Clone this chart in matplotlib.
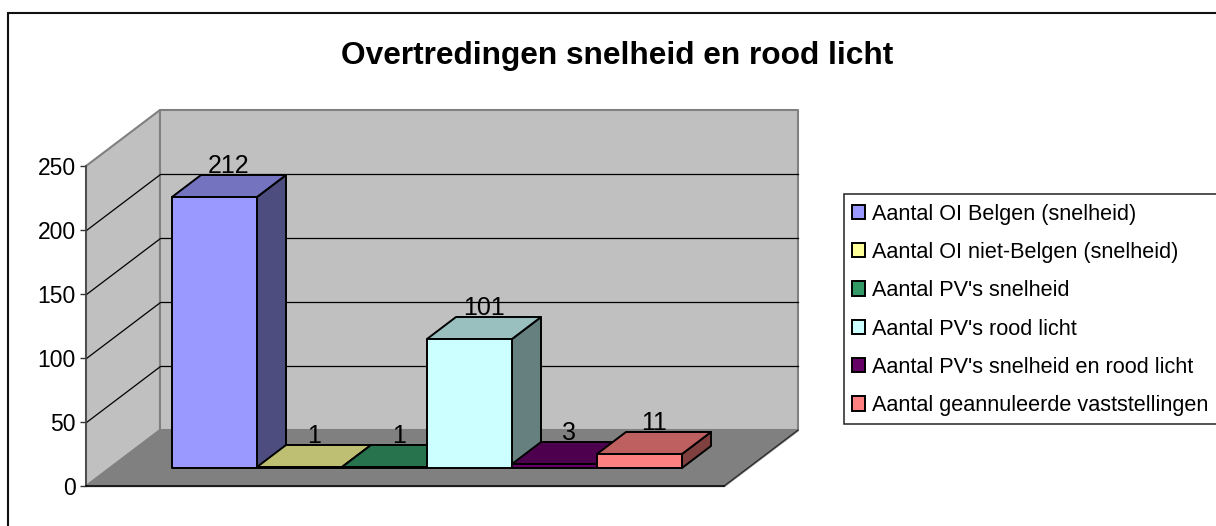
import matplotlib
matplotlib.use("Agg")
import matplotlib.pyplot as plt
from matplotlib.colors import to_rgb
from matplotlib.lines import Line2D
from matplotlib.patches import Patch, Polygon, Rectangle

plt.rcParams["font.family"] = ["Liberation Sans", "DejaVu Sans"]

# data
labels = ["Aantal OI Belgen (snelheid)", "Aantal OI niet-Belgen (snelheid)",
          "Aantal PV's snelheid", "Aantal PV's rood licht",
          "Aantal PV's snelheid en rood licht", "Aantal geannuleerde vaststellingen"]
values = [212, 1, 1, 101, 3, 11]
colors = ["#9999FF", "#FFFF99", "#339966", "#CCFFFF", "#660066", "#FF8080"]
yticks = [0, 50, 100, 150, 200, 250]

W, H = 1216, 526
fig = plt.figure(figsize=(W / 100, H / 100), dpi=100)

# front plane of the 3D box, in pixels
ax = fig.add_axes([86 / W, 1 - 486 / H, 638 / W, 320 / H])
ax.set_xlim(-0.73, 6.77)
ax.set_ylim(0, 250)
ax.patch.set_visible(False)

DX = 74 / (638 / 7.5)   # full depth in x units
DY = 56 / (320 / 250)   # full depth in value units
BAR_D0 = 18 / 56
BAR_D1 = 40 / 56


def pt(x, v, d=0.0):
    # project a point (category, value, depth 0..1) onto the front plane
    return (x + d * DX, v + d * DY)


def poly(points, face, edge, lw, z):
    ax.add_patch(Polygon(points, closed=True, facecolor=face, edgecolor=edge, snap=True,
                         linewidth=lw, zorder=z, clip_on=False, joinstyle="round"))


def shade(c, f):
    return tuple(f * k for k in to_rgb(c))


x0, x1 = ax.get_xlim()
wall = "#C0C0C0"
floor = "#808080"
poly([pt(x0, 0), pt(x0, 250), pt(x0, 250, 1), pt(x0, 0, 1)], wall, "#808080", 1.5, 1)
poly([pt(x0, 0, 1), pt(x0, 250, 1), pt(x1, 250, 1), pt(x1, 0, 1)], wall, "#808080", 1.5, 1)
poly([pt(x0, 0), pt(x1, 0), pt(x1, 0, 1), pt(x0, 0, 1)], floor, "#808080", 1.0, 1.5)

for t in yticks[1:-1]:
    ax.add_line(Line2D(*zip(pt(x0, t), pt(x0, t, 1), pt(x1, t, 1)), color="black",
                       lw=0.9, zorder=2, clip_on=False, snap=True))

ax.add_line(Line2D(*zip(pt(x1, 0), pt(x1, 0, 1)), color="#222222", lw=0.8, zorder=2, clip_on=False))

for i, (v, c) in enumerate(zip(values, colors)):
    l, r = i, i + 1
    z = 3 + i * 0.1
    # right side, top, front
    poly([pt(r, 0, BAR_D0), pt(r, 0, BAR_D1), pt(r, v, BAR_D1), pt(r, v, BAR_D0)],
         shade(c, 0.5), "black", 1.4, z)
    poly([pt(l, v, BAR_D0), pt(r, v, BAR_D0), pt(r, v, BAR_D1), pt(l, v, BAR_D1)],
         shade(c, 0.75), "black", 1.4, z)
    poly([pt(l, 0, BAR_D0), pt(r, 0, BAR_D0), pt(r, v, BAR_D0), pt(l, v, BAR_D0)],
         c, "black", 1.4, z)
    lx = pt(i + 0.5, v, (BAR_D0 + BAR_D1) / 2)[0]
    ly = pt(i + 0.5, v, BAR_D1)[1]
    ax.text(lx, ly + 1.5, str(v), ha="center", va="baseline", fontsize=18, color="black",
            zorder=5, clip_on=False)

ax.set_yticks(yticks)
ax.set_xticks([])
ax.tick_params(axis="y", length=4.3, width=1.0, color="#333333", labelsize=16.5, pad=3)
for s in ["top", "right"]:
    ax.spines[s].set_visible(False)
ax.spines["left"].set_color("#444444")
ax.spines["left"].set_linewidth(1.2)
ax.spines["bottom"].set_color("black")
ax.spines["bottom"].set_linewidth(1.1)
ax.spines["left"].set_zorder(2.5)
ax.spines["bottom"].set_zorder(2.5)

# outer frame runs off the right and bottom of the picture
fig.add_artist(Rectangle((8 / W, 1 - 600 / H), 1300 / W, 587 / H, transform=fig.transFigure,
                         facecolor="none", edgecolor="#111111", linewidth=1.5, zorder=0))

fig.text(617 / W, 1 - 56 / H, "Overtredingen snelheid en rood licht", ha="center", va="center",
         fontsize=22.8, fontweight="bold")

# legend box also runs off the right edge
fig.add_artist(Rectangle((844 / W, 1 - 424 / H), 500 / W, 230 / H, transform=fig.transFigure,
                         facecolor="white", edgecolor="#222222", linewidth=1.1, zorder=1))
handles = [Patch(facecolor=c, edgecolor="black", linewidth=1.4) for c in colors]
leg = fig.legend(handles, labels, loc="upper left", bbox_to_anchor=(844 / W, 1 - 196 / H),
                 fontsize=15.6, frameon=False,
                 handlelength=0.64, handleheight=0.64, handletextpad=0.3, labelspacing=0.8,
                 borderpad=0.35, borderaxespad=0)
leg.set_zorder(2)

fig.savefig("out.png", dpi=100)
